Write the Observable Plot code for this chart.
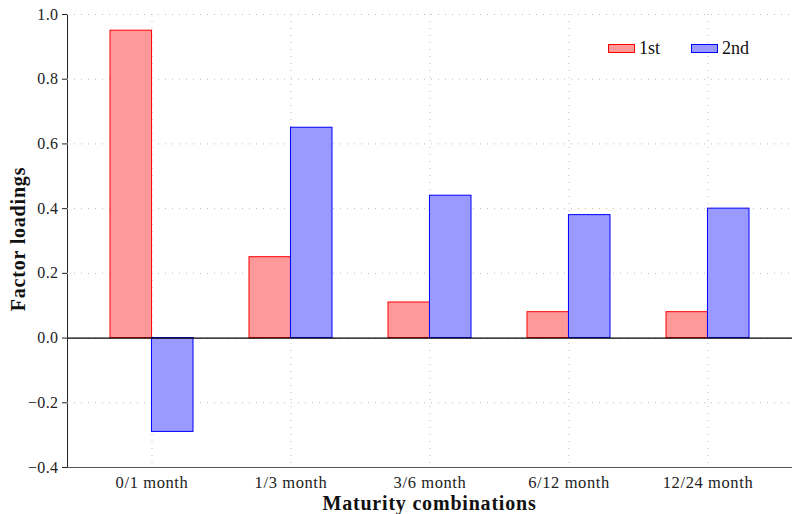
<!DOCTYPE html>
<html>
<head>
<meta charset="utf-8">
<script src="https://cdn.jsdelivr.net/npm/d3@7"></script>
<script src="https://cdn.jsdelivr.net/npm/@observablehq/plot@0.6"></script>
<style>
  html, body { margin: 0; padding: 0; background: #fff; }
  #chart { position: relative; width: 792px; height: 514px; font-family: "Liberation Serif", serif; }
  #legend { position: absolute; left: 608px; top: 38px; display: flex; align-items: center; font-size: 18px; color: #111; }
  .sw { display: inline-block; width: 27px; height: 9px; margin-right: 4px; box-sizing: border-box; }
  .item { display: flex; align-items: center; margin-right: 31px; }
  g[aria-label="x-axis tick label"] text { font-size: 16.5px; letter-spacing: 0.6px; }
  g[aria-label="y-axis tick label"] text { font-size: 16px; letter-spacing: 0.4px; }
</style>
</head>
<body>
<div id="chart"></div>
<script>
const categories = ["0/1 month", "1/3 month", "3/6 month", "6/12 month", "12/24 month"];
const seriesNames = ["1st", "2nd"];
const first = [0.95, 0.25, 0.11, 0.08, 0.08];
const second = [-0.29, 0.65, 0.44, 0.38, 0.40];
const yTicks = [-0.4, -0.2, 0.0, 0.2, 0.4, 0.6, 0.8, 1.0];
const fills = {"1st": "#ff9999", "2nd": "#9999ff"};
const strokes = {"1st": "#ff0000", "2nd": "#0000ff"};

const W = 792, H = 514, ML = 67, MR = 0, MT = 14, MB = 47;
const xOpts = {type: "band", domain: categories, paddingInner: 0.406, paddingOuter: 0.3};
const xScale = Plot.scale({x: {...xOpts, range: [ML, W - MR]}});
const half = xScale.bandwidth / 2;

const d1 = categories.map((c, i) => ({cat: c, value: first[i]}));
const d2 = categories.map((c, i) => ({cat: c, value: second[i]}));

const plot = Plot.plot({
  width: W,
  height: H,
  marginLeft: ML,
  marginRight: MR,
  marginTop: MT,
  marginBottom: MB,
  style: {fontFamily: "Liberation Serif, serif", fontSize: "15px", color: "#222", background: "white"},
  x: {...xOpts, label: null, tickSize: 0, tickPadding: 9},
  y: {domain: [-0.4, 1.0], ticks: yTicks, tickFormat: d3.format(".1f"), tickSize: 5, tickPadding: 4, label: null, line: true},
  marks: [
    Plot.ruleY(yTicks, {stroke: "#bbb", strokeDasharray: "1,6", strokeWidth: 1}),
    Plot.ruleX(categories, {x: d => d, stroke: "#bbb", strokeDasharray: "1,6", strokeWidth: 1}),
    Plot.barY(d1, {x: "cat", y: "value", fill: fills["1st"], stroke: strokes["1st"], strokeWidth: 1, insetLeft: 0, insetRight: half}),
    Plot.barY(d2, {x: "cat", y: "value", fill: fills["2nd"], stroke: strokes["2nd"], strokeWidth: 1, insetLeft: half, insetRight: 0}),
    Plot.ruleY([0], {stroke: "#000", strokeWidth: 1.2}),
    Plot.ruleY([-0.4], {stroke: "#555", strokeWidth: 1.2})
  ]
});

const chart = document.getElementById("chart");
chart.appendChild(plot);

const svg = d3.select(plot);
svg.append("text")
  .attr("x", (ML + W - MR) / 2).attr("y", 510)
  .attr("text-anchor", "middle")
  .attr("font-weight", "bold").attr("font-size", 20).attr("fill", "#111")
  .attr("letter-spacing", "0.8px")
  .attr("font-family", "Liberation Serif, serif")
  .text("Maturity combinations");
svg.append("text")
  .attr("transform", "translate(25,239) rotate(-90)")
  .attr("text-anchor", "middle")
  .attr("font-weight", "bold").attr("font-size", 20).attr("fill", "#111")
  .attr("letter-spacing", "0.8px")
  .attr("font-family", "Liberation Serif, serif")
  .text("Factor loadings");

const legend = document.createElement("div");
legend.id = "legend";
seriesNames.forEach(s => {
  const item = document.createElement("div");
  item.className = "item";
  const sw = document.createElement("span");
  sw.className = "sw";
  sw.style.background = fills[s];
  sw.style.border = "1px solid " + strokes[s];
  item.appendChild(sw);
  const t = document.createElement("span");
  t.textContent = s;
  item.appendChild(t);
  legend.appendChild(item);
});
chart.appendChild(legend);
</script>
</body>
</html>
